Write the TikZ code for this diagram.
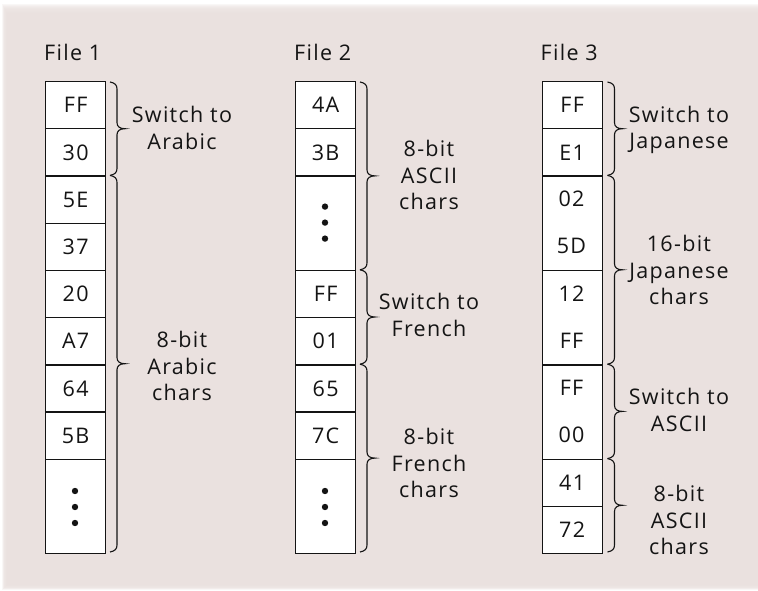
\documentclass[tikz,border=0pt]{standalone}
\usepackage{fontspec}
\setmainfont{Open Sans}[LetterSpace=6]
\definecolor{paper}{HTML}{EAE1DF}
\definecolor{ink}{HTML}{141414}
\newcommand{\fs}{\fontsize{21.5}{26.5}\selectfont}
\newcommand{\grp}[3]{%
  \pgfmathsetmacro{\ym}{(#2+#3)/2}%
  \draw[brc] (#1,#2) .. controls (#1+5,#2+1) and (#1+7,#2+3) .. (#1+7,#2+7)
    -- (#1+7,\ym-6) .. controls (#1+7,\ym-2) and (#1+10,\ym) .. (#1+15,\ym)
    .. controls (#1+10,\ym) and (#1+7,\ym+2) .. (#1+7,\ym+6)
    -- (#1+7,#3-7) .. controls (#1+7,#3-3) and (#1+5,#3-1) .. (#1,#3);}
\begin{document}
\begin{tikzpicture}[x=1pt,y=-1pt,
  cell/.style={draw=ink, line width=1.3pt, fill=white, minimum width=60pt,
    minimum height=47.2pt, inner sep=0pt, anchor=north west, font=\fs, text=ink},
  dcell/.style={cell, minimum height=94.4pt},
  ctext/.style={inner sep=0pt, font=\fs, text=ink},
  lbl/.style={align=center, inner sep=0pt, font=\fs, text=ink},
  ttl/.style={anchor=base west, inner sep=0pt, font=\fs, text=ink},
  brc/.style={draw=ink, line width=1.1pt},
  dotc/.style={circle, fill=ink, inner sep=0pt, minimum size=6.4pt}]
\useasboundingbox (0,0) rectangle (758,591);
\fill[white] (0,0) rectangle (758,591);
\foreach \i in {0,...,8}
  \fill[paper, opacity=0.25] (2+\i*0.6,4+\i*1.1) rectangle (758,590-\i*0.6);
\fill[paper] (8,15) rectangle (758,585);
% titles
\node[ttl] (t1) at (44,61) {File 1};
\node[ttl] (t2) at (294,61) {File 2};
\node[ttl] (t3) at (540.5,61) {File 3};
% column 1
\node[cell] (a1) at (45,81) {FF};
\node[cell] (a2) at (45,128.2) {30};
\node[cell] (a3) at (45,175.4) {5E};
\node[cell] (a4) at (45,222.6) {37};
\node[cell] (a5) at (45,269.8) {20};
\node[cell] (a6) at (45,317) {A7};
\node[cell] (a7) at (45,364.2) {64};
\node[cell] (a8) at (45,411.4) {5B};
\node[dcell] (a9) at (45,458.6) {};
\node[dotc] (a9d1) at (75,491) {};
\node[dotc] (a9d2) at (75,507) {};
\node[dotc] (a9d3) at (75,523) {};
% column 2
\node[cell] (b1) at (295,81) {4A};
\node[cell] (b2) at (295,128.2) {3B};
\node[dcell] (b3) at (295,175.4) {};
\node[dotc] (b3d1) at (325,206.6) {};
\node[dotc] (b3d2) at (325,222.6) {};
\node[dotc] (b3d3) at (325,238.6) {};
\node[cell] (b4) at (295,269.8) {FF};
\node[cell] (b5) at (295,317) {01};
\node[cell] (b6) at (295,364.2) {65};
\node[cell] (b7) at (295,411.4) {7C};
\node[dcell] (b8) at (295,458.6) {};
\node[dotc] (b8d1) at (325,491) {};
\node[dotc] (b8d2) at (325,507) {};
\node[dotc] (b8d3) at (325,523) {};
% column 3
\node[cell] (c1) at (541.5,81) {FF};
\node[cell] (c2) at (541.5,128.2) {E1};
\node[dcell] (c3) at (541.5,175.4) {};
\node[ctext] (c3a) at (571.5,199) {02};
\node[ctext] (c3b) at (571.5,246.2) {5D};
\node[dcell] (c4) at (541.5,269.8) {};
\node[ctext] (c4a) at (571.5,293.4) {12};
\node[ctext] (c4b) at (571.5,340.6) {FF};
\node[dcell] (c5) at (541.5,364.2) {};
\node[ctext] (c5a) at (571.5,387.8) {FF};
\node[ctext] (c5b) at (571.5,435) {00};
\node[cell] (c6) at (541.5,458.6) {41};
\node[cell] (c7) at (541.5,505.8) {72};
% braces
\grp{110}{82}{175.4}
\grp{110}{175.4}{552}
\grp{360}{82}{269.8}
\grp{360}{269.8}{364.2}
\grp{360}{364.2}{552}
\grp{607.5}{82}{175.4}
\grp{607.5}{175.4}{364.2}
\grp{607.5}{364.2}{458.6}
\grp{607.5}{458.6}{552}
% labels
\node[lbl] (l1) at (182,128) {Switch to\\Arabic};
\node[lbl] (l2) at (182,366) {8-bit\\Arabic\\chars};
\node[lbl] (l3) at (429,175) {8-bit\\ASCII\\chars};
\node[lbl] (l4) at (429,315) {Switch to\\French};
\node[lbl] (l5) at (429,463) {8-bit\\French\\chars};
\node[lbl] (l6) at (679,130) {Switch to\\Japanese};
\node[lbl] (l7) at (679,270) {16-bit\\Japanese\\chars};
\node[lbl] (l8) at (679,410) {Switch to\\ASCII};
\node[lbl] (l9) at (679,520) {8-bit\\ASCII\\chars};
\end{tikzpicture}
\end{document}
